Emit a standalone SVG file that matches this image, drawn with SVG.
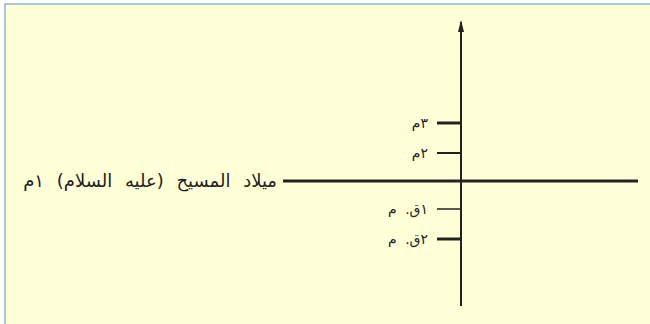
<svg xmlns="http://www.w3.org/2000/svg" width="650" height="324" viewBox="0 0 650 324">
<style>
.lbl{font-family:"DejaVu Sans","Noto Sans",sans-serif;font-size:14px;fill:#222;direction:rtl;unicode-bidi:embed;text-anchor:start}
.axis{stroke:#222;fill:none}
</style>
<defs>
<marker id="arr" markerWidth="12" markerHeight="8" refX="10" refY="4" orient="auto" markerUnits="userSpaceOnUse" viewBox="0 0 12 8">
<path d="M0,1 L12,4 L0,7 Z" fill="#222"/>
</marker>
</defs>
<rect x="5" y="4" width="650" height="330" fill="#FFFFD8" stroke="#8DB4CF" stroke-width="1.5"/>
<g id="connectors">
<line class="axis" x1="461" y1="306" x2="461" y2="22" stroke-width="2" marker-end="url(#arr)"/>
<line class="axis" x1="283" y1="181" x2="638" y2="181" stroke-width="3"/>
<line class="axis" x1="437" y1="123" x2="461" y2="123" stroke-width="3"/>
<line class="axis" x1="437" y1="153" x2="461" y2="153" stroke-width="2"/>
<line class="axis" x1="437" y1="209" x2="461" y2="209" stroke-width="1.5"/>
<line class="axis" x1="437" y1="239" x2="461" y2="239" stroke-width="3"/>
</g>
<g id="label-main"><text class="lbl" x="277" y="187" style="font-size:18px;word-spacing:7px">ميلاد المسيح (عليه السلام) ١م</text></g>
<g id="label-3m"><text class="lbl" x="428" y="128">٣م</text></g>
<g id="label-2m"><text class="lbl" x="428" y="158">٢م</text></g>
<g id="label-1bc"><text class="lbl" x="428" y="214" style="word-spacing:4px">١ق. م</text></g>
<g id="label-2bc"><text class="lbl" x="428" y="244" style="word-spacing:4px">٢ق. م</text></g>
</svg>
